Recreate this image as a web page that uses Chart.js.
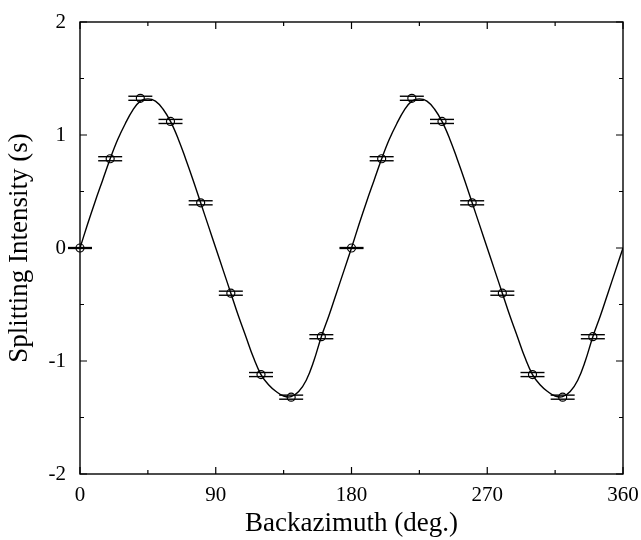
<!DOCTYPE html>
<html>
<head>
<meta charset="utf-8">
<script src="https://cdn.jsdelivr.net/npm/chart.js@4/dist/chart.umd.min.js"></script>
<style>
  html, body { margin: 0; padding: 0; background: #fff; }
  #wrap { width: 641px; height: 540px; }
</style>
</head>
<body>
<div id="wrap"><canvas id="si-chart" width="641" height="540"></canvas></div>
<script>
// observed splitting intensity, one value every 20 degrees of backazimuth
const bazDeg = [0, 20, 40, 60, 80, 100, 120, 140, 160, 180, 200, 220, 240, 260, 280, 300, 320, 340];
const siObs = [0, 0.79, 1.325, 1.12, 0.40, -0.40, -1.12, -1.32, -0.785, 0, 0.79, 1.325, 1.12, 0.40, -0.40, -1.12, -1.32, -0.785];
const siErr = [0.004, 0.018, 0.018, 0.018, 0.018, 0.018, 0.018, 0.018, 0.018, 0.004, 0.018, 0.018, 0.018, 0.018, 0.018, 0.018, 0.018, 0.018];

// fitted curve, every 5 degrees
const fitBaz = [0, 5, 10, 15, 20, 25, 30, 35, 40, 45, 50, 55, 60, 65, 70, 75, 80, 85, 90,
  95, 100, 105, 110, 115, 120, 125, 130, 135, 140, 145, 150, 155, 160, 165, 170, 175, 180,
  185, 190, 195, 200, 205, 210, 215, 220, 225, 230, 235, 240, 245, 250, 255, 260, 265, 270,
  275, 280, 285, 290, 295, 300, 305, 310, 315, 320, 325, 330, 335, 340, 345, 350, 355, 360];
const fitSi = [0, 0.21, 0.41, 0.60, 0.79, 0.96, 1.10, 1.22, 1.30, 1.32, 1.30, 1.23, 1.12, 0.97, 0.79, 0.60, 0.40, 0.20, 0,
  -0.20, -0.40, -0.60, -0.785, -0.97, -1.12, -1.21, -1.27, -1.31, -1.315, -1.27, -1.17, -1.00, -0.785, -0.60, -0.40, -0.20, 0,
  0.21, 0.41, 0.60, 0.79, 0.96, 1.10, 1.22, 1.30, 1.32, 1.30, 1.23, 1.12, 0.97, 0.79, 0.60, 0.40, 0.20, 0,
  -0.20, -0.40, -0.60, -0.785, -0.97, -1.12, -1.21, -1.27, -1.31, -1.315, -1.27, -1.17, -1.00, -0.785, -0.60, -0.40, -0.20, 0];

const xTicks = [0, 90, 180, 270, 360];
const yTicks = [-2, -1, 0, 1, 2];

Chart.defaults.font.family = "'Liberation Serif', 'Times New Roman', serif";
Chart.defaults.color = "#000";

// horizontal double bars drawn at y +/- err
const errorBars = {
  id: "errorBars",
  afterDatasetsDraw(chart) {
    const { ctx, scales: { x, y } } = chart;
    ctx.save();
    ctx.strokeStyle = "#000";
    ctx.lineWidth = 1.4;
    bazDeg.forEach((b, i) => {
      const px = x.getPixelForValue(b);
      [siObs[i] + siErr[i], siObs[i] - siErr[i]].forEach((v) => {
        const py = y.getPixelForValue(v);
        ctx.beginPath();
        ctx.moveTo(px - 12, py);
        ctx.lineTo(px + 12, py);
        ctx.stroke();
      });
    });
    ctx.restore();
  },
};

// box round the plot with inward ticks on all four sides
const frame = {
  id: "frame",
  afterDraw(chart) {
    const { ctx, chartArea: a, scales: { x, y } } = chart;
    ctx.save();
    ctx.strokeStyle = "#000";
    ctx.lineWidth = 1.4;
    ctx.strokeRect(a.left, a.top, a.right - a.left, a.bottom - a.top);
    ctx.lineWidth = 1.2;
    ctx.beginPath();
    x.ticks.forEach((t) => {
      const px = x.getPixelForValue(t.value);
      const len = xTicks.includes(t.value) ? 7 : 4;
      ctx.moveTo(px, a.bottom);
      ctx.lineTo(px, a.bottom - len);
      ctx.moveTo(px, a.top);
      ctx.lineTo(px, a.top + len);
    });
    y.ticks.forEach((t) => {
      const py = y.getPixelForValue(t.value);
      const len = yTicks.includes(t.value) ? 7 : 4;
      ctx.moveTo(a.left, py);
      ctx.lineTo(a.left + len, py);
      ctx.moveTo(a.right, py);
      ctx.lineTo(a.right - len, py);
    });
    ctx.stroke();
    ctx.restore();
  },
};

new Chart(document.getElementById("si-chart"), {
  type: "scatter",
  data: {
    datasets: [
      {
        label: "fit",
        data: fitBaz.map((b, i) => ({ x: b, y: fitSi[i] })),
        showLine: true,
        borderColor: "#000",
        borderWidth: 1.4,
        pointRadius: 0,
        tension: 0.4,
      },
      {
        label: "observed",
        data: bazDeg.map((b, i) => ({ x: b, y: siObs[i] })),
        showLine: false,
        pointRadius: 4,
        pointStyle: "circle",
        pointBackgroundColor: "rgba(0,0,0,0)",
        pointBorderColor: "#000",
        pointBorderWidth: 1.2,
        clip: false,
      },
    ],
  },
  options: {
    responsive: false,
    animation: false,
    layout: { padding: { top: 22, right: 18, left: 0, bottom: 0 } },
    plugins: { legend: { display: false }, tooltip: { enabled: false } },
    scales: {
      x: {
        type: "linear",
        min: 0,
        max: 360,
        grid: { display: false, drawTicks: false },
        border: { display: false },
        ticks: {
          stepSize: 45,
          padding: 9,
          maxRotation: 0,
          font: { size: 21 },
          callback: (v) => (xTicks.includes(v) ? String(v) : ""),
        },
        title: { display: true, text: "Backazimuth (deg.)", font: { size: 27 }, padding: 0 },
        afterFit: (s) => { s.height = 66; s.paddingLeft = 0; s.paddingRight = 0; },
      },
      y: {
        type: "linear",
        min: -2,
        max: 2,
        grid: { display: false, drawTicks: false },
        border: { display: false },
        ticks: {
          stepSize: 0.5,
          padding: 14,
          font: { size: 21 },
          callback: (v) => (yTicks.includes(v) ? String(v) : ""),
        },
        title: { display: true, text: "Splitting Intensity (s)", font: { size: 27 }, padding: { top: 4, bottom: 0 } },
        afterFit: (s) => { s.width = 80; s.paddingTop = 0; s.paddingBottom = 0; },
      },
    },
  },
  plugins: [errorBars, frame],
});
</script>
</body>
</html>
